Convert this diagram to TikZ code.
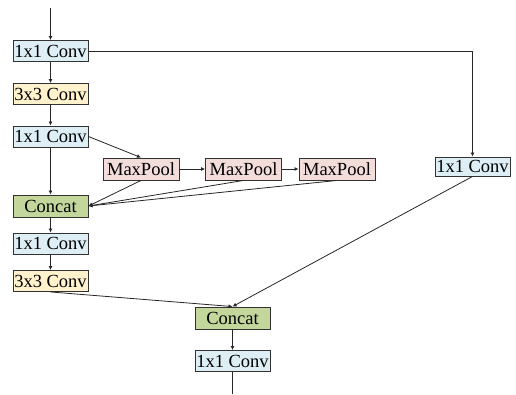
\documentclass[tikz,border=0pt]{standalone}
\usepackage{fontspec}
\setmainfont{Liberation Serif}
\usetikzlibrary{arrows.meta}
\definecolor{cblue}{RGB}{221,238,244}
\definecolor{cyel}{RGB}{255,242,204}
\definecolor{cpink}{RGB}{242,221,219}
\definecolor{cgreen}{RGB}{195,214,155}
\definecolor{cedge}{RGB}{50,50,50}
\tikzset{
  blk/.style={draw=cedge, line width=0.9pt, minimum width=75pt, minimum height=21pt, inner sep=0pt, font=\fontsize{18.5}{19}\selectfont},
  conv1/.style={blk, fill=cblue},
  conv3/.style={blk, fill=cyel},
  pool/.style={blk, fill=cpink, minimum width=76pt, minimum height=22pt},
  cat/.style={blk, fill=cgreen, minimum height=22pt},
  conn/.style={draw=black!85, line width=0.8pt, -{Latex[length=4pt,width=4pt]}},
  plain/.style={draw=black!85, line width=0.8pt},
}
\begin{document}
\begin{tikzpicture}[x=1pt,y=-1pt]
\useasboundingbox (0,0) rectangle (516,394);
\node[conv1] (c1) at (50.5,51) {1x1 Conv};
\node[conv3] (c2) at (50.5,94) {3x3 Conv};
\node[conv1] (c3) at (50.5,136.5) {1x1 Conv};
\node[pool] (mp1) at (141,169) {MaxPool};
\node[pool] (mp2) at (243.5,169) {MaxPool};
\node[pool] (mp3) at (337,169) {MaxPool};
\node[cat] (cat1) at (50.5,206) {Concat};
\node[conv1] (c4) at (50.5,243.5) {1x1 Conv};
\node[conv3] (c5) at (50.5,281) {3x3 Conv};
\node[cat] (cat2) at (232.5,318) {Concat};
\node[conv1] (c6) at (232.5,361) {1x1 Conv};
\node[conv1, minimum height=19pt] (r) at (472.5,166.5) {1x1 Conv};
\coordinate (in) at (50.5,8);
\coordinate (out) at (232.5,394);
\coordinate (turn) at (r.north |- c1.east);
\draw[conn] (in) -- (c1.north);
\draw[conn] (c1) -- (c2);
\draw[conn] (c2) -- (c3);
\draw[conn] (c3) -- (cat1);
\draw[conn] (c3.east) -- (mp1.north);
\draw[conn] (mp1) -- (mp2);
\draw[conn] (mp2) -- (mp3);
\draw[conn] (mp1.south) -- (cat1.east);
\draw[conn] (mp2.south) -- (cat1.east);
\draw[conn] (mp3.south) -- (cat1.east);
\draw[conn] (cat1) -- (c4);
\draw[conn] (c4) -- (c5);
\draw[conn] (c5.south) -- (cat2.north);
\draw[conn] (r.south) -- (cat2.north);
\draw[conn] (c1.east) -- (turn) -- (r.north);
\draw[conn] (cat2) -- (c6);
\draw[plain] (c6.south) -- (out);
\end{tikzpicture}
\end{document}
